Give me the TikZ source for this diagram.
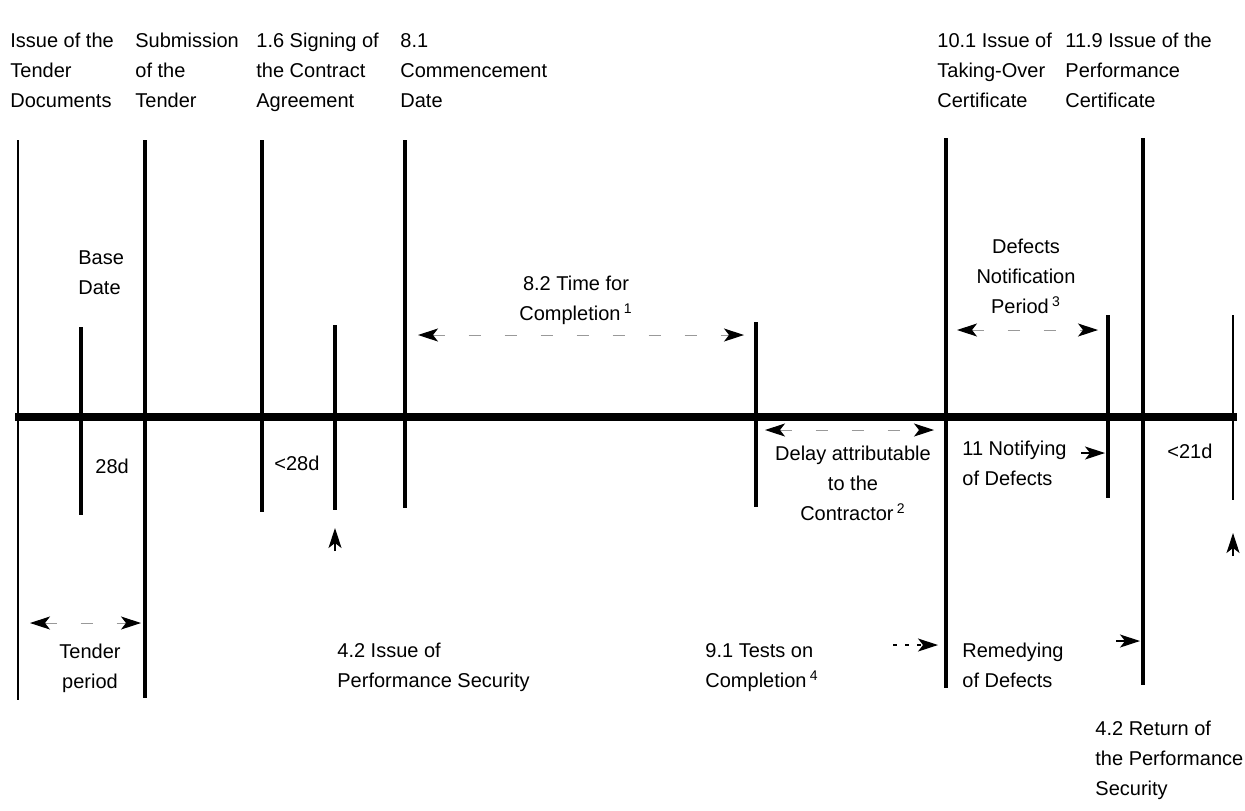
\documentclass[tikz,border=0pt]{standalone}
\usepackage{fontspec}
\setmainfont{Liberation Sans}
\usetikzlibrary{arrows.meta}
\begin{document}
\begin{tikzpicture}[
    x=0.5pt, y=-0.5pt,
    font=\fontsize{10}{15}\selectfont,
    >={Stealth[black, length=10pt, width=6.5pt, inset=2.5pt]},
    milestone/.style={line width=1.7pt},
    timeline/.style={line width=3.6pt},
    period/.style={<->, draw=black!40, line width=0.5pt, dash pattern=on 6pt off 12pt},
    pointer/.style={->, line width=0.6pt},
    lbl/.style={anchor=north west, align=left, inner sep=0pt},
    clbl/.style={anchor=north, align=center, inner sep=0pt}
]
    \useasboundingbox (0,0) rectangle (1245,810);

    \node[lbl] (tenderdocs) at (10,33) {Issue of the\\Tender\\Documents};
    \node[lbl] (submission) at (135,33) {Submission\\of the\\Tender};
    \node[lbl] (signing) at (256,33) {1.6 Signing of\\the Contract\\Agreement};
    \node[lbl] (commence) at (400,33) {8.1\\Commencement\\Date};
    \node[lbl] (takeover) at (937,33) {10.1 Issue of\\Taking-Over\\Certificate};
    \node[lbl] (perfcert) at (1065,33) {11.9 Issue of the\\Performance\\Certificate};

    \draw[milestone, line width=1.2pt] (18,140) -- (18,700);
    \draw[milestone] (145,140) -- (145,698);
    \draw[milestone] (262,140) -- (262,512);
    \draw[milestone] (81,327) -- (81,515);
    \draw[milestone] (335,325) -- (335,510);
    \draw[milestone] (405,140) -- (405,508);
    \draw[milestone] (756,322) -- (756,507);
    \draw[milestone] (946,138) -- (946,688);
    \draw[milestone] (1108,315) -- (1108,498);
    \draw[milestone] (1143,138) -- (1143,685);
    \draw[milestone, line width=1.3pt] (1233,315) -- (1233,500);

    \draw[timeline] (15,417) -- (1237,417);

    \node[lbl] (basedate) at (78,250) {Base\\Date};
    \node[lbl] (days28) at (95,459) {28d};
    \node[lbl] (less28) at (274,456) {<28d};
    \node[clbl] (timecompl) at (576,276) {8.2 Time for\\Completion\,\textsuperscript{1}};
    \node[clbl] (dnp) at (1026,239) {Defects\\Notification\\Period\,\textsuperscript{3}};
    \node[clbl] (delay) at (853,446) {Delay attributable\\to the\\Contractor\,\textsuperscript{2}};
    \node[lbl] (notifying) at (962,441) {11 Notifying\\of Defects};
    \node[lbl] (less21) at (1167,444) {<21d};
    \node[clbl] (tenderper) at (90,644) {Tender\\period};
    \node[lbl] (issuesec) at (337,643) {4.2 Issue of\\Performance Security};
    \node[lbl] (tests) at (705,643) {9.1 Tests on\\Completion\,\textsuperscript{4}};
    \node[lbl] (remedy) at (962,643) {Remedying\\of Defects};
    \node[lbl] (returnsec) at (1095,721) {4.2 Return of\\the Performance\\Security};

    \coordinate (tpA) at (30,623);    \coordinate (tpB) at (141,623);
    \coordinate (tcA) at (418,335);   \coordinate (tcB) at (744,335);
    \coordinate (dlA) at (765,430);   \coordinate (dlB) at (934,430);
    \coordinate (dnA) at (957,330);   \coordinate (dnB) at (1098,330);
    \coordinate (ntA) at (1081,453);  \coordinate (ntB) at (1105,453);
    \coordinate (tsA) at (893,645);   \coordinate (tsB) at (938,645);
    \coordinate (rmA) at (1116,641);  \coordinate (rmB) at (1140,641);
    \coordinate (isA) at (335,551);   \coordinate (isB) at (335,528);
    \coordinate (rtA) at (1233,556);  \coordinate (rtB) at (1233,533);

    \draw[period] (tpA) -- (tpB);
    \draw[period] (tcA) -- (tcB);
    \draw[period] (dlA) -- (dlB);
    \draw[period] (dnA) -- (dnB);
    \draw[pointer] (ntA) -- (ntB);
    \draw[pointer, dash pattern=on 2pt off 4pt] (tsA) -- (tsB);
    \draw[pointer] (rmA) -- (rmB);
    \draw[pointer] (isA) -- (isB);
    \draw[pointer] (rtA) -- (rtB);
\end{tikzpicture}
\end{document}
